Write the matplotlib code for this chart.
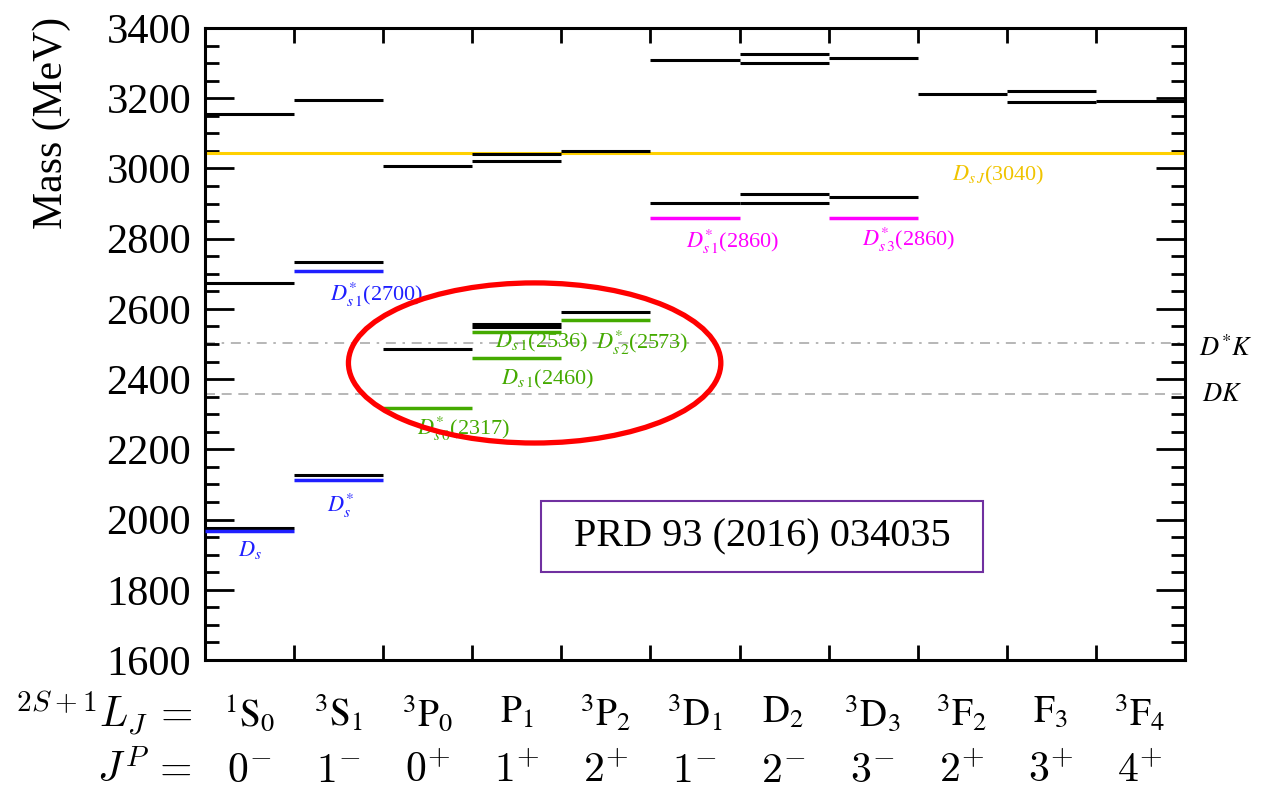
import numpy as np
import matplotlib
matplotlib.use("Agg")
import matplotlib.pyplot as plt
from matplotlib.ticker import MultipleLocator
from matplotlib.patches import Ellipse, Rectangle

# ---------------- data ----------------
wave_labels = [r'$^{1}\mathrm{S}_{0}$', r'$^{3}\mathrm{S}_{1}$', r'$^{3}\mathrm{P}_{0}$', r'$\mathrm{P}_{1}$',
               r'$^{3}\mathrm{P}_{2}$', r'$^{3}\mathrm{D}_{1}$', r'$\mathrm{D}_{2}$', r'$^{3}\mathrm{D}_{3}$',
               r'$^{3}\mathrm{F}_{2}$', r'$\mathrm{F}_{3}$', r'$^{3}\mathrm{F}_{4}$']
jp_labels = [r'$0^{-}$', r'$1^{-}$', r'$0^{+}$', r'$1^{+}$', r'$2^{+}$', r'$1^{-}$',
             r'$2^{-}$', r'$3^{-}$', r'$2^{+}$', r'$3^{+}$', r'$4^{+}$']

# theoretical (black) levels: column index and mass (MeV)
theory_col = [0, 0, 0, 1, 1, 1, 2, 2, 3, 3, 3, 3, 4, 4, 5, 5, 6, 6, 6, 6, 7, 7, 8, 9, 9, 10]
theory_mass = [1977, 2674, 3154, 2128, 2733, 3196, 2485, 3008, 2549, 2556, 3020, 3041, 2592, 3051,
               2901, 3309, 2901, 2928, 3301, 3327, 2919, 3315, 3211, 3190, 3221, 3193]

# experimental states
blue_col = [0, 1, 1]
blue_mass = [1968, 2112, 2709]
blue_names = [r'$D_s$', r'$D_s^{*}$', r'$D^{*}_{s\,1}$(2700)']

green_col = [2, 3, 3, 4]
green_mass = [2318, 2460, 2535, 2569]
green_names = [r'$D^{*}_{s\,0}$(2317)', r'$D_{s\,1}$(2460)', r'$D_{s\,1}$(2536)', r'$D^{*}_{s\,2}$(2573)']

magenta_col = [5, 7]
magenta_mass = [2859, 2860]
magenta_names = [r'$D^{*}_{s\,1}$(2860)', r'$D^{*}_{s\,3}$(2860)']

gold_mass = 3044
gold_name = r'$D_{s\,J}$(3040)'

threshold_mass = [2504, 2359]
threshold_names = [r'$D^{*}K$', r'$DK$']

# ---------------- style ----------------
SERIF = 'Liberation Serif'
BLUE = '#1f1fff'
GREEN = '#44aa00'
MAGENTA = '#ff00ff'
GOLD = '#ffd000'

fig = plt.figure(figsize=(12.61, 8), dpi=100)
ax = fig.add_axes([205/1261, 1 - 660/800, 980/1261, 632/800])
ax.set_xlim(0, 11)
ax.set_ylim(1600, 3400)

tc = np.array(theory_col)
ax.hlines(theory_mass, tc, tc + 1, colors='black', lw=2.2, zorder=3)
bc = np.array(blue_col)
ax.hlines(blue_mass, bc, bc + 1, colors=BLUE, lw=2.5, zorder=3)
gc = np.array(green_col)
ax.hlines(green_mass, gc, gc + 1, colors=GREEN, lw=2.5, zorder=3)
mc = np.array(magenta_col)
ax.hlines(magenta_mass, mc, mc + 1, colors=MAGENTA, lw=2.5, zorder=3)
ax.axhline(gold_mass, color=GOLD, lw=2.2, zorder=2)

ax.axhline(threshold_mass[0], color='#aaaaaa', lw=1.2, ls=(0, (6, 4, 1.5, 4)), zorder=1)
ax.axhline(threshold_mass[1], color='#aaaaaa', lw=1.2, ls=(0, (6, 4)), zorder=1)

# ticks
ax.set_yticks(np.arange(1600, 3401, 200))
ax.yaxis.set_minor_locator(MultipleLocator(50))
ax.set_xticks(np.arange(1, 11))
ax.tick_params(axis='y', which='major', direction='in', length=21, width=2,
               left=True, right=True, labelsize=30.5, pad=10)
ax.tick_params(axis='y', which='minor', direction='in', length=10, width=2,
               left=True, right=True)
ax.tick_params(axis='x', which='major', direction='in', length=11, width=2,
               top=True, bottom=True, labelbottom=False)
for lab in ax.get_yticklabels():
    lab.set_fontfamily(SERIF)
for s in ax.spines.values():
    s.set_linewidth(2.2)

fig.text(52/1261, 1 - 123/800, 'Mass (MeV)', rotation=90, ha='center', va='center',
         fontsize=30, family=SERIF)

# state labels
lab_kw = dict(ha='center', va='center', fontsize=16, family=SERIF, math_fontfamily='stix')
ax.text(blue_col[0] + 0.5, blue_mass[0] - 55, blue_names[0], color=BLUE, **lab_kw)
ax.text(blue_col[1] + 0.52, blue_mass[1] - 72, blue_names[1], color=BLUE, **lab_kw)
ax.text(blue_col[2] + 0.93, blue_mass[2] - 68, blue_names[2], color=BLUE, **lab_kw)

ax.text(green_col[0] + 0.9, green_mass[0] - 60, green_names[0], color=GREEN, **lab_kw)
ax.text(green_col[1] + 0.85, green_mass[1] - 62, green_names[1], color=GREEN, **lab_kw)
ax.text(green_col[2] + 0.78, green_mass[2] - 32, green_names[2], color=GREEN, **lab_kw)
ax.text(green_col[3] + 0.9, green_mass[3] - 66, green_names[3], color=GREEN, **lab_kw)

ax.text(magenta_col[0] + 0.92, magenta_mass[0] - 68, magenta_names[0], color=MAGENTA, **lab_kw)
ax.text(magenta_col[1] + 0.9, magenta_mass[1] - 63, magenta_names[1], color=MAGENTA, **lab_kw)
ax.text(8.9, gold_mass - 63, gold_name, color='#f0c400', **lab_kw)

thr_kw = dict(ha='center', va='center', fontsize=19, family=SERIF, math_fontfamily='stix',
              clip_on=False)
ax.text(11.46, threshold_mass[0] - 15, threshold_names[0], **thr_kw)
ax.text(11.42, threshold_mass[1] - 3, threshold_names[1], **thr_kw)

# x-category labels
for i in range(11):
    fig.text((205 + 89 * (i + 0.5)) / 1261, 1 - 713/800, wave_labels[i], ha='center', va='center',
             fontsize=27, family=SERIF, math_fontfamily='stix')
    fig.text((205 + 89 * (i + 0.5)) / 1261, 1 - 770/800, jp_labels[i], ha='center', va='center',
             fontsize=30, math_fontfamily='cm')
fig.text(192/1261, 1 - 713/800, r'$^{2S+1}L_J\,=$', ha='right', va='center', fontsize=30,
         math_fontfamily='cm')
fig.text(192/1261, 1 - 770/800, r'$J^P\,=$', ha='right', va='center', fontsize=30,
         math_fontfamily='cm')

# slide annotations
ax.add_patch(Ellipse((3.70, 2446), 4.18, 456, fill=False, ec='#ff0000', lw=3.8,
                     zorder=10, clip_on=False))
ax.add_patch(Rectangle((3.775, 1851), 4.955, 202, fill=False, ec='#7030a0', lw=1.5, zorder=5))
ax.text(3.775 + 4.955 / 2, 1950, 'PRD 93 (2016) 034035', ha='center', va='center',
        fontsize=29, family=SERIF, zorder=6)

fig.savefig('out.png', dpi=100)
